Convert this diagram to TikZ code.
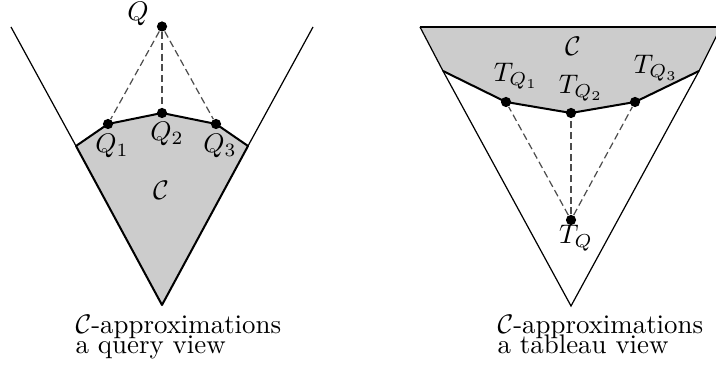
\documentclass[tikz,border=0pt]{standalone}
\begin{document}
\begin{tikzpicture}[x=0.372pt,y=-0.372pt,
  dot/.style={circle,fill=black,inner sep=0pt,minimum size=3.8pt},
  conefill/.style={fill=black!20},
  thinline/.style={line width=0.45pt},
  thickline/.style={line width=0.75pt},
  dashline/.style={line width=0.45pt,black!70,dash pattern=on 2.6pt off 1.4pt},
  lbl/.style={inner sep=0pt}]
\useasboundingbox (0,0) rectangle (716,370);
% ---------- left: query view ----------
\coordinate (la) at (11,27);
\coordinate (lb) at (313,27);
\coordinate (lap) at (162,305);
\coordinate (lc1) at (76,146);
\coordinate (lc2) at (248,146);
\coordinate (q1c) at (108,124);
\coordinate (q2c) at (162,113);
\coordinate (q3c) at (216,124);
\fill[conefill] (lc1) -- (q1c) -- (q2c) -- (q3c) -- (lc2) -- (lap) -- cycle;
\draw[thinline] (la) -- (lc1);
\draw[thinline] (lb) -- (lc2);
\draw[thickline,line join=round] (lc1) -- (q1c) -- (q2c) -- (q3c) -- (lc2) -- (lap) -- cycle;
\node[dot] (q) at (162,26.5) {};
\node[dot] (q1) at (q1c) {};
\node[dot] (q2) at (q2c) {};
\node[dot] (q3) at (q3c) {};
\draw[dashline] (q) -- (q1);
\draw[dashline] (q) -- (q2);
\draw[dashline] (q) -- (q3);
\node[lbl] (ql) at (138,14) {$Q$};
\node[lbl] (q1l) at (112,146) {$Q_1$};
\node[lbl] (q2l) at (167,134) {$Q_2$};
\node[lbl] (q3l) at (220,146) {$Q_3$};
\node[lbl] (cl) at (161,190) {$\mathcal{C}$};
\node[lbl,anchor=base west] (cap1) at (75,334) {$\mathcal{C}$-approximations};
\node[lbl,anchor=base west] (cap2) at (75,354) {a query view};
% ---------- right: tableau view ----------
\begin{scope}
\clip (0,0) rectangle (716,370);
\coordinate (ra) at (420,27);
\coordinate (rb) at (721,27);
\coordinate (rap) at (571,306);
\coordinate (rc1) at (443,71);
\coordinate (rc2) at (699,71);
\coordinate (t1c) at (506,102);
\coordinate (t2c) at (571,113);
\coordinate (t3c) at (635,102);
\fill[conefill] (ra) -- (rb) -- (rc2) -- (t3c) -- (t2c) -- (t1c) -- (rc1) -- cycle;
\draw[thinline] (ra) -- (rb);
\draw[thinline] (ra) -- (rc1);
\draw[thinline] (rb) -- (rc2);
\draw[thinline] (rc1) -- (rap) -- (rc2);
\draw[thickline,line join=round] (rc1) -- (t1c) -- (t2c) -- (t3c) -- (rc2);
\end{scope}
\node[dot] (t1) at (t1c) {};
\node[dot] (t2) at (t2c) {};
\node[dot] (t3) at (t3c) {};
\node[dot] (tq) at (571,220) {};
\draw[dashline] (tq) -- (t1);
\draw[dashline] (tq) -- (t2);
\draw[dashline] (tq) -- (t3);
\node[lbl] (t1l) at (516,76) {$T_{Q_1}$};
\node[lbl] (t2l) at (581,88) {$T_{Q_2}$};
\node[lbl] (t3l) at (656,68) {$T_{Q_3}$};
\node[lbl] (tql) at (576,238) {$T_Q$};
\node[lbl] (cr) at (573,46) {$\mathcal{C}$};
\node[lbl,anchor=base west] (cap3) at (497,334) {$\mathcal{C}$-approximations};
\node[lbl,anchor=base west] (cap4) at (497,354) {a tableau view};
\end{tikzpicture}
\end{document}
